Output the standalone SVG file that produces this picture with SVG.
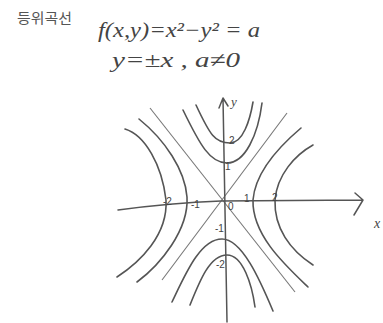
<svg xmlns="http://www.w3.org/2000/svg" width="383" height="323" viewBox="0 0 383 323">
<style>
.t{font-family:"Liberation Serif","Noto Sans CJK KR",serif;font-style:italic;fill:#444}
.k{font-family:"Noto Sans CJK KR",sans-serif;fill:#555}
.c{fill:none;stroke:#555;stroke-width:1.6;stroke-linecap:round}
.a{fill:none;stroke:#777;stroke-width:1.1}
.ax{fill:none;stroke:#555;stroke-width:1.5;stroke-linecap:round;stroke-linejoin:round}
.n{font-family:"Liberation Sans",sans-serif;font-size:10px;fill:#444}
</style>
<rect width="383" height="323" fill="#fff"/>
<g id="title">
<text class="k" x="17" y="23" font-size="14" textLength="55" lengthAdjust="spacingAndGlyphs">등위곡선</text>
<text class="t" x="98" y="37" font-size="21" textLength="162" lengthAdjust="spacingAndGlyphs">f(x,y)=x²−y² = a</text>
<text class="t" x="112" y="67" font-size="21" textLength="128" lengthAdjust="spacingAndGlyphs">y=±x ,  a≠0</text>
</g>
<g id="connectors">
<path id="asym1" class="a" d="M150,108 L295,292"/>
<path id="asym2" class="a" d="M287,113 L162,280"/>
<path id="xaxis" class="ax" d="M118,210 Q170,203 221,201 L363,200 M355,193 L363,200 L354,215"/>
<path id="yaxis" class="ax" d="M223,98 L227,322 M219,108 L223,98 L228,106"/>
</g>
<g id="curves">
<path class="c" d="M196,105 C210,135 215,143 230,143 C243,143 250,120 253,102"/>
<path class="c" d="M183,110 C200,145 210,163 227,163 C245,163 258,135 262,103"/>
<path class="c" d="M125,129 C145,135 162,165 166,200 C168,235 140,262 117,277"/>
<path class="c" d="M139,119 C165,140 185,170 187,197 C189,230 160,265 137,282"/>
<path class="c" d="M301,128 C275,150 255,175 253,200 C252,235 285,265 308,287"/>
<path class="c" d="M313,145 C295,155 277,175 275,200 C274,228 290,250 313,265"/>
<path class="c" d="M172,302 C185,275 200,239 222,239 C242,239 260,280 273,311"/>
<path class="c" d="M190,305 C200,280 210,255 227,255 C243,255 252,285 255,307"/>
</g>
<g id="labels">
<text class="t" x="231" y="106" font-size="13">y</text>
<text class="t" x="374" y="228" font-size="14">x</text>
<text class="n" x="229" y="144">2</text>
<text class="n" x="225" y="170">1</text>
<text class="n" x="163" y="205">-2</text>
<text class="n" x="191" y="208">-1</text>
<text class="n" x="244" y="202">1</text>
<text class="n" x="272" y="201">2</text>
<text class="n" x="228" y="210" font-size="6">0</text>
<text class="n" x="215" y="232">-1</text>
<text class="n" x="216" y="268">-2</text>
</g>
</svg>
